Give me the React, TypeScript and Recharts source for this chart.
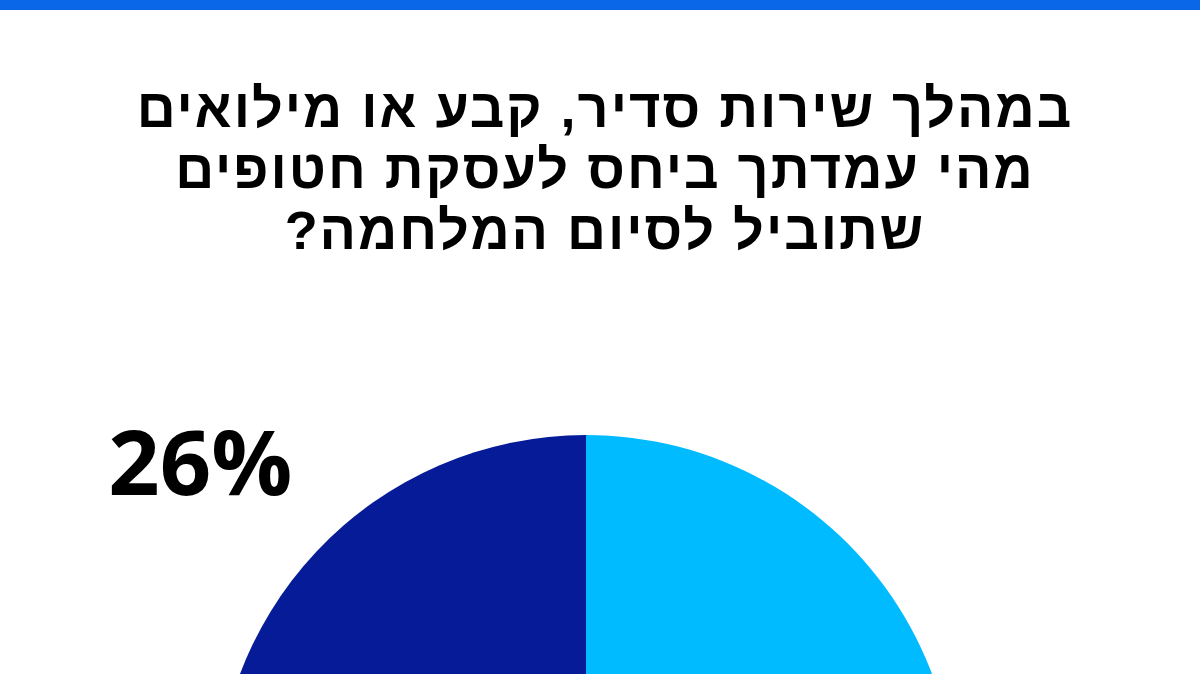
import { PieChart, Pie, Cell } from 'recharts';

// poll answers, clockwise from 12 o'clock
const answers = ['תומך', 'לא יודע', 'מתנגד'];
const shares = [64, 10, 26];
const colors = ['#00bbff', '#8a94a6', '#061b98'];

const titleLines = [
  'במהלך שירות סדיר, קבע או מילואים',
  'מהי עמדתך ביחס לעסקת חטופים',
  'שתוביל לסיום המלחמה?',
];

const data = answers.map((name, i) => ({ name, value: shares[i] }));

const RADIAN = Math.PI / 180;

const renderLabel = (props: any) => {
  const { cx, cy, midAngle, outerRadius, value } = props;
  const r = outerRadius + 144;
  const x = cx + r * Math.cos(-midAngle * RADIAN);
  const y = cy + r * Math.sin(-midAngle * RADIAN);
  // only the label above the centre falls inside the picture
  if (y > cy) return null;
  return (
    <text
      x={x - 11}
      y={y + 7}
      textAnchor="middle"
      dominantBaseline="central"
      fill="#000"
      fontSize={90}
      fontWeight={700}
      fontFamily="'Open Sans', 'Liberation Sans', sans-serif"
    >
      {`${value}%`}
    </text>
  );
};

export default function App() {
  return (
    <div
      style={{
        position: 'absolute',
        left: 0,
        top: 0,
        width: 1200,
        height: 674,
        background: '#fff',
        overflow: 'hidden',
      }}
    >
      <div style={{ position: 'absolute', left: 0, top: 0, width: 1200, height: 10, background: '#0a68e8' }} />
      <div
        dir="rtl"
        style={{
          position: 'absolute',
          left: 10,
          top: 78,
          width: 1190,
          textAlign: 'center',
          fontFamily: "'Liberation Sans', 'DejaVu Sans', sans-serif",
          fontWeight: 700,
          fontSize: 54,
          letterSpacing: 2,
          lineHeight: '61px',
          color: '#000',
        }}
      >
        {titleLines.map((line) => (
          <div key={line}>{line}</div>
        ))}
      </div>
      <div style={{ position: 'absolute', left: 0, top: 0 }}>
        <PieChart width={1200} height={674}>
          <Pie
            data={data}
            dataKey="value"
            nameKey="name"
            cx={581}
            cy={800}
            outerRadius={370}
            innerRadius={0}
            startAngle={90}
            endAngle={-270}
            stroke="none"
            label={renderLabel}
            labelLine={false}
            isAnimationActive={false}
          >
            {data.map((d, i) => (
              <Cell key={d.name} fill={colors[i]} />
            ))}
          </Pie>
        </PieChart>
      </div>
    </div>
  );
}
